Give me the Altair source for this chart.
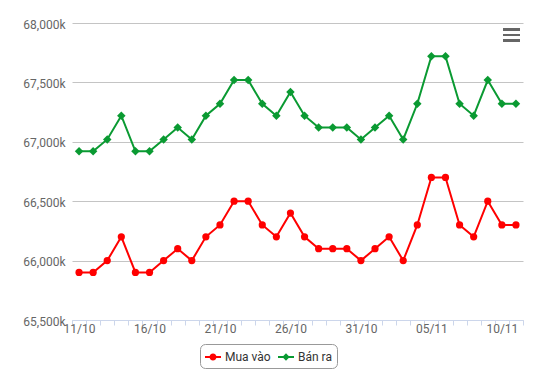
import json
import altair as alt
import pandas as pd

dates = [f"{d:02d}/10" for d in range(11, 32)] + [f"{d:02d}/11" for d in range(1, 12)]
mua_vao = [65900, 65900, 66000, 66200, 65900, 65900, 66000, 66100, 66000, 66200,
           66300, 66500, 66500, 66300, 66200, 66400, 66200, 66100, 66100, 66100,
           66000, 66100, 66200, 66000, 66300, 66700, 66700, 66300, 66200, 66500,
           66300, 66300]
ban_ra = [66920, 66920, 67020, 67220, 66920, 66920, 67020, 67120, 67020, 67220,
          67320, 67520, 67520, 67320, 67220, 67420, 67220, 67120, 67120, 67120,
          67020, 67120, 67220, 67020, 67320, 67720, 67720, 67320, 67220, 67520,
          67320, 67320]
label_dates = ["11/10", "16/10", "21/10", "26/10", "31/10", "05/11", "10/11"]
y_ticks = [65500, 66000, 66500, 67000, 67500, 68000]
series_names = ["Mua vào", "Bán ra"]
series_colors = ["#ff0000", "#0a9a32"]

rows = []
for d, a, b in zip(dates, mua_vao, ban_ra):
    rows.append({"date": d, "series": series_names[0], "value": a})
    rows.append({"date": d, "series": series_names[1], "value": b})
df = pd.DataFrame(rows)

label_expr = ("indexof(" + json.dumps(label_dates) + ", datum.value) >= 0 ? datum.value : ''")

x_enc = alt.X(
    "date:N", sort=dates,
    scale=alt.Scale(type="band", paddingInner=0, paddingOuter=0),
    axis=alt.Axis(
        title=None, labelAngle=0, labelExpr=label_expr, labelOverlap=False,
        tickBand="extent", tickSize=5, tickColor="#ccd6eb", domainColor="#ccd6eb",
        labelColor="#666666", labelFontSize=12, labelPadding=-2, grid=False,
    ),
)
y_enc = alt.Y(
    "value:Q",
    scale=alt.Scale(domain=[65500, 68000], nice=False, zero=False),
    axis=alt.Axis(
        title=None, values=y_ticks, labelExpr="format(datum.value, ',') + 'k'",
        grid=True, gridColor="#c4c4c4", domain=False, ticks=False,
        labelPadding=7, labelColor="#666666", labelFontSize=12, labelOffset=1,
    ),
)

base = alt.Chart(df)
layers = []
for name, col, shp, sz in zip(series_names, series_colors, ["circle", "diamond"], [52, 72]):
    sub = base.transform_filter(alt.datum.series == name)
    layers.append(sub.mark_line(strokeWidth=2, color=col).encode(x=x_enc, y=y_enc))
    layers.append(sub.mark_point(filled=True, shape=shp, size=sz, opacity=1, color=col)
                  .encode(x=x_enc, y=y_enc))

legend_paths = [
    "M-1,-0.125H1V0.125H-1Z M-0.44,0A0.44,0.44,0,1,1,0.44,0A0.44,0.44,0,1,1,-0.44,0Z",
    "M-1,-0.125H1V0.125H-1Z M0,-0.46L0.46,0L0,0.46L-0.46,0Z",
]
legend_props = dict(
    title=None, orient="none", legendX=128, legendY=321, direction="horizontal",
    strokeColor="#999999", cornerRadius=5, padding=5, labelFontSize=12,
    labelColor="#333333", labelOffset=4, columnPadding=7, symbolSize=256,
    symbolStrokeWidth=0, symbolOpacity=1,
)
legend_layer = base.transform_filter("false").mark_point(filled=True, size=256, opacity=1).encode(
    x=x_enc, y=y_enc,
    color=alt.Color("series:N", scale=alt.Scale(domain=series_names, range=series_colors),
                    legend=alt.Legend(**legend_props)),
    shape=alt.Shape("series:N", scale=alt.Scale(domain=series_names, range=legend_paths),
                    legend=alt.Legend(**legend_props)),
)
layers.append(legend_layer)

for yy in (6.5, 12, 17.5):
    layers.append(alt.Chart(df).mark_rule(color="#666666", strokeWidth=2).encode(
        x=alt.value(431), x2=alt.value(448), y=alt.value(yy)
    ))

chart = alt.layer(*layers).properties(
    width=451, height=297,
    autosize=alt.AutoSizeParams(type="none"),
    padding={"left": 64, "top": 15, "right": 16, "bottom": 55},
).configure(font="Roboto").configure_view(stroke=None)

chart.save("out.html", embed_options={"renderer": "svg", "actions": False})
